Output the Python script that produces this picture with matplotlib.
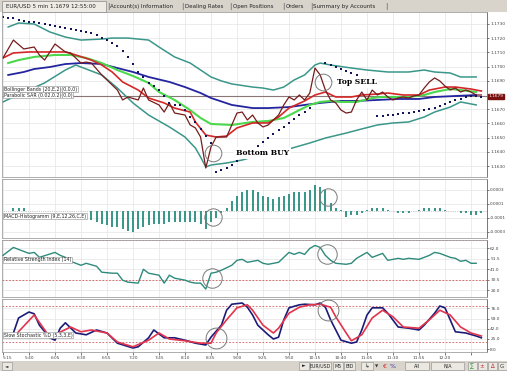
import numpy as np
import matplotlib.pyplot as plt
from matplotlib.patches import Rectangle

# ===== DATA (bar index = 5 min bars from 5:15) =====
TIME_LABELS = ["5:15", "5:40", "6:05", "6:30", "6:55", "7:20", "7:45", "8:10", "8:35",
               "9:00", "9:25", "9:50", "10:15", "10:40", "11:05", "11:30", "11:55", "12:20", ""]
TIME_TICKS = [0, 5, 10, 15, 20, 25, 30, 35, 40, 45, 50, 55, 60, 65, 70, 75, 80, 85, 90]

CURRENT = 1.1679
PRICE_TICKS = [1.1630, 1.1640, 1.1650, 1.1660, 1.1670, 1.1690, 1.1700, 1.1710, 1.1720, 1.1730]

close_pts = [(0, 1.17061), (2, 1.17187), (4, 1.17124), (6, 1.17138), (7, 1.17082), (8, 1.17046),
             (10, 1.17159), (12, 1.17103), (13, 1.17096), (15, 1.17025), (16, 1.17032), (17, 1.17025),
             (19, 1.16941), (20, 1.16906), (22, 1.16835), (23, 1.16765), (24, 1.16786), (26, 1.16765),
             (27, 1.16849), (28, 1.16765), (30, 1.16730), (31, 1.16680), (32, 1.16744), (33, 1.16673),
             (35, 1.16659), (36, 1.16589), (37, 1.16568), (38, 1.16504), (39, 1.16286), (40, 1.16434),
             (41, 1.16504), (43, 1.16504), (44, 1.16589), (45, 1.16673), (46, 1.16680), (47, 1.16624),
             (48, 1.16659), (49, 1.16603), (50, 1.16575), (51, 1.16589), (53, 1.16659), (54, 1.16730),
             (55, 1.16786), (56, 1.16765), (57, 1.16800), (58, 1.16765), (59, 1.16814), (60, 1.16990),
             (61, 1.16941), (62, 1.16835), (63, 1.16765), (64, 1.16744), (65, 1.16694), (66, 1.16673),
             (67, 1.16680), (68, 1.16765), (69, 1.16821), (70, 1.16765), (71, 1.16835), (72, 1.16800),
             (73, 1.16821), (74, 1.16786), (75, 1.16765), (76, 1.16779), (77, 1.16786), (78, 1.16779),
             (79, 1.16793), (80, 1.16800), (81, 1.16849), (82, 1.16892), (83, 1.16920), (84, 1.16899),
             (85, 1.16863), (86, 1.16835), (87, 1.16849), (88, 1.16821), (89, 1.16835), (90, 1.16821),
             (91, 1.16800), (92, 1.16800)]

red_pts = [(0, 1.17061), (2, 1.17096), (5, 1.17103), (9, 1.17103), (12, 1.17103), (14, 1.17082),
           (17, 1.17046), (19, 1.17011), (21, 1.16962), (23, 1.16892), (26, 1.16835), (28, 1.16779),
           (31, 1.16744), (33, 1.16708), (36, 1.16680), (37, 1.16610), (39, 1.16518), (41, 1.16504),
           (43, 1.16511), (45, 1.16568), (48, 1.16603), (51, 1.16603), (53, 1.16645), (55, 1.16708),
           (58, 1.16758), (60, 1.16800), (62, 1.16821), (64, 1.16786), (67, 1.16786), (69, 1.16800),
           (72, 1.16807), (74, 1.16814), (77, 1.16800), (80, 1.16800), (82, 1.16835), (85, 1.16856),
           (87, 1.16856), (90, 1.16842), (92, 1.16828)]

green_pts = [(1, 1.17025), (3, 1.17046), (6, 1.17068), (10, 1.17082), (13, 1.17082), (16, 1.17061),
             (19, 1.17025), (22, 1.16976), (25, 1.16934), (28, 1.16885), (30, 1.16821), (33, 1.16765),
             (36, 1.16694), (38, 1.16638), (40, 1.16596), (44, 1.16589), (48, 1.16610), (51, 1.16617),
             (54, 1.16638), (57, 1.16694), (59, 1.16730), (61, 1.16751), (63, 1.16758), (65, 1.16751),
             (68, 1.16751), (71, 1.16779), (73, 1.16786), (76, 1.16786), (78, 1.16786), (81, 1.16800),
             (83, 1.16821), (86, 1.16842), (88, 1.16835), (91, 1.16821)]

blue_pts = [(1, 1.16941), (4, 1.16962), (6, 1.16983), (9, 1.16997), (12, 1.17018), (15, 1.17025),
            (19, 1.17018), (22, 1.16990), (25, 1.16962), (28, 1.16927), (32, 1.16892), (35, 1.16856),
            (38, 1.16814), (40, 1.16779), (44, 1.16730), (48, 1.16708), (51, 1.16708), (55, 1.16715),
            (58, 1.16730), (61, 1.16744), (65, 1.16758), (68, 1.16758), (72, 1.16765), (76, 1.16772),
            (80, 1.16772), (83, 1.16786), (87, 1.16793), (91, 1.16800)]

bb_up_pts = [(1, 1.17279), (3, 1.17307), (6, 1.17300), (9, 1.17244), (12, 1.17208), (15, 1.17187),
             (19, 1.17194), (21, 1.17201), (24, 1.17201), (28, 1.17187), (30, 1.17138), (33, 1.17068),
             (36, 1.17025), (38, 1.16976), (40, 1.16927), (42, 1.16899), (44, 1.16878), (48, 1.16856),
             (50, 1.16849), (52, 1.16835), (54, 1.16856), (56, 1.16906), (58, 1.16941), (60, 1.17011),
             (61, 1.17025), (63, 1.17011), (67, 1.16990), (70, 1.16976), (74, 1.16962), (78, 1.16962),
             (81, 1.16976), (83, 1.16962), (86, 1.16955), (88, 1.16927), (91, 1.16927)]

bb_lo_pts = [(0, 1.16751), (2, 1.16786), (8, 1.16885), (12, 1.16976), (14, 1.17011), (15, 1.16997),
             (19, 1.16941), (22, 1.16849), (25, 1.16744), (28, 1.16659), (32, 1.16575), (35, 1.16504),
             (37, 1.16427), (38, 1.16363), (39, 1.16293), (40, 1.16307), (43, 1.16321), (46, 1.16342),
             (48, 1.16363), (51, 1.16384), (55, 1.16420), (59, 1.16462), (62, 1.16497), (66, 1.16532),
             (69, 1.16561), (72, 1.16589), (75, 1.16603), (78, 1.16610), (81, 1.16645), (83, 1.16680),
             (86, 1.16715), (88, 1.16751), (91, 1.16730)]

sar_pts = [(0, 1.17349), (1, 1.17342), (2, 1.17342), (3, 1.17328), (4, 1.17321), (5, 1.17314),
           (6, 1.17314), (7, 1.17307), (8, 1.17300), (9, 1.17293), (10, 1.17286), (11, 1.17279),
           (12, 1.17272), (13, 1.17265), (14, 1.17258), (15, 1.17251), (16, 1.17244), (17, 1.17237),
           (18, 1.17223), (19, 1.17201), (20, 1.17187), (21, 1.17166), (22, 1.17145), (23, 1.17110),
           (24, 1.17068), (25, 1.17018), (26, 1.16962), (27, 1.16927), (28, 1.16885), (29, 1.16863),
           (30, 1.16835), (31, 1.16793), (32, 1.16744), (33, 1.16730), (34, 1.16730), (35, 1.16694),
           (36, 1.16645), (37, 1.16610), (38, 1.16561), (39, 1.16511), (40, 1.16462),
           (41, 1.16258), (42, 1.16272), (43, 1.16286), (44, 1.16307), (45, 1.16335), (46, 1.16356),
           (47, 1.16377), (48, 1.16406), (49, 1.16441), (50, 1.16469), (51, 1.16497), (52, 1.16525),
           (53, 1.16554), (54, 1.16575), (55, 1.16603), (56, 1.16631), (57, 1.16659), (58, 1.16680),
           (59, 1.16708),
           (62, 1.17025), (63, 1.17011), (64, 1.16997), (65, 1.16983), (66, 1.16969), (67, 1.16955),
           (68, 1.16941),
           (72, 1.16652), (73, 1.16652), (74, 1.16659), (75, 1.16659), (76, 1.16666), (77, 1.16673),
           (78, 1.16673), (79, 1.16680), (80, 1.16687), (81, 1.16694), (82, 1.16701), (83, 1.16708),
           (84, 1.16723), (85, 1.16737), (86, 1.16751), (87, 1.16765), (88, 1.16772), (89, 1.16786),
           (90, 1.16793), (91, 1.16793), (92, 1.16786)]

# MACD histogram, units of 1e-5
macd_bars = [2, 3, 4] + list(range(17, 93))
macd_vals = [4, 4, 4,
             -14, -17, -19, -20, -23, -24, -27, -29, -30, -26,
             -23, -20, -19, -19, -19, -17, -17, -17, -17, -17,
             -17, -19, -26, -17, -10, -3,
             4, 13, 21, 26, 29, 29, 26, 21, 19, 17,
             19, 21, 24, 26, 26, 27, 30, 36, 34, 29,
             11, 4, 1,
             -9, -7, -7, -3, 1, 3, 4, 4, 1, -1,
             -3, -4, -3, -1, 1, 3, 4, 4, 4, 1,
             -1, -1, -3, -4, -6, -6, -4]
MACD_TICKS = [-3e-4, -1e-4, 1e-4, 3e-4]
MACD_LABELS = ["-0.0003", "-0.0001", "0.0001", "0.0003"]

rsi_pts = [(0, 55), (2, 63), (4, 59), (5, 57), (6, 58), (7, 53), (10, 58), (11, 55), (12, 53), (13, 49),
           (15, 45), (16, 47), (18, 44), (19, 38), (21, 37), (22, 37), (23, 30), (24, 28), (26, 27),
           (27, 41), (28, 37), (30, 35), (31, 27), (32, 35), (33, 32), (35, 30), (36, 28), (37, 27),
           (38, 27), (39, 21), (40, 37), (41, 38), (42, 40), (44, 45), (45, 50), (46, 51), (47, 48),
           (49, 50), (50, 47), (51, 46), (53, 48), (54, 53), (55, 58), (56, 56), (57, 58), (58, 56),
           (59, 62), (60, 65), (61, 63), (62, 55), (63, 50), (64, 47), (66, 46), (67, 47), (68, 52),
           (70, 58), (71, 53), (72, 55), (73, 57), (74, 50), (76, 52), (77, 51), (78, 52), (80, 51),
           (82, 55), (83, 58), (84, 57), (86, 53), (87, 52), (88, 49), (89, 50), (90, 47), (91, 47)]
RSI_TICKS = [20.0, 30.5, 41.0, 51.5, 62.0]

stoch_k_pts = [(2, 35), (3, 60), (5, 70), (6, 67), (7, 48), (9, 27), (10, 23), (11, 43), (12, 52),
               (14, 35), (16, 32), (18, 40), (20, 35), (22, 18), (25, 10), (26, 12), (28, 27), (29, 40),
               (31, 27), (33, 27), (35, 23), (37, 18), (39, 15), (40, 28), (42, 48), (43, 73), (44, 83),
               (46, 85), (47, 78), (48, 65), (49, 48), (51, 32), (52, 25), (53, 28), (54, 57), (55, 77),
               (57, 82), (58, 83), (60, 82), (61, 85), (62, 78), (63, 57), (64, 40), (65, 23), (67, 18),
               (68, 20), (69, 40), (70, 65), (71, 77), (73, 77), (74, 68), (76, 45), (78, 43), (80, 40),
               (81, 48), (83, 68), (84, 80), (85, 77), (86, 57), (87, 37), (89, 35), (91, 30), (92, 27)]
stoch_d_pts = [(2, 28), (6, 65), (9, 28), (13, 45), (15, 37), (17, 40), (20, 35), (22, 20), (25, 12),
               (28, 23), (30, 35), (32, 25), (35, 22), (38, 18), (40, 18), (41, 35), (43, 57), (45, 77),
               (47, 82), (48, 73), (50, 48), (52, 35), (53, 43), (55, 68), (57, 78), (59, 82), (61, 83),
               (63, 78), (64, 62), (66, 35), (67, 22), (69, 32), (71, 60), (73, 73), (75, 62), (77, 45),
               (80, 43), (82, 57), (84, 73), (86, 65), (88, 45), (90, 35), (92, 30)]
STOCH_TICKS = [8.0, 25.0, 42.0, 59.0, 76.0]

# hand drawn circles (bar, value) on each panel
circles_main = [(40.4, 1.16392), (61.5, 1.16892)]
circles_macd = [(40.4, -9.3e-5), (62.5, 19.3e-5)]
circles_rsi = [(40.2, 32), (62.3, 56)]
circles_stoch = [(41.0, 27), (62.5, 73)]
# ==========================================================================

W, H = 507, 371
X_LIM = (-0.19, 93.08)
TICK_FS = 3.1


def pts(p):
    x, y = zip(*p)
    return np.array(x), np.array(y)


def box(x0, y0, x1, y1):
    # pixel box (top-left origin) -> figure fraction
    return [x0 / W, 1 - y1 / H, (x1 - x0) / W, (y1 - y0) / H]


def frect(fig, x0, y0, x1, y1, **kw):
    fig.add_artist(Rectangle((x0 / W, 1 - y1 / H), (x1 - x0) / W, (y1 - y0) / H,
                             transform=fig.transFigure, **kw))


def ftext(fig, x, y, s, **kw):
    kw.setdefault("va", "center")
    kw.setdefault("fontsize", 4)
    fig.text(x / W, 1 - y / H, s, **kw)


def style(ax, ticks, labels, ylim):
    ax.set_xlim(*X_LIM)
    ax.set_ylim(*ylim)
    ax.yaxis.tick_right()
    ax.set_yticks(ticks)
    ax.set_yticklabels(labels)
    ax.set_xticks(TIME_TICKS)
    ax.tick_params(axis="y", labelsize=TICK_FS, length=1.5, width=0.5, pad=0.8, colors="#444444")
    ax.tick_params(axis="x", length=0, labelbottom=False)
    ax.grid(True, color="#e4e4e4", lw=0.5)
    ax.set_axisbelow(True)
    for s in ax.spines.values():
        s.set_color("#a0a0a0")
        s.set_linewidth(0.6)
    ax.spines["right"].set_color("#606060")


def circles(ax, c, ms):
    x, y = zip(*c)
    ax.plot(x, y, "o", ms=ms, mfc="none", mec="#7a7a7a", mew=0.7, zorder=9)


fig = plt.figure(figsize=(W / 100, H / 100), dpi=100)
fig.patch.set_facecolor("white")

# ---- price panel ----
ax = fig.add_axes(box(2, 12, 487, 177))
style(ax, PRICE_TICKS, [f"{v:.4f}" for v in PRICE_TICKS],
      (1.1730 - 153 / 14200, 1.1730 + 12 / 14200))
teal = "#3a978a"
for p in (bb_up_pts, bb_lo_pts):
    ax.plot(*pts(p), color=teal, lw=1.1)
ax.plot(*pts(blue_pts), color="#2424a0", lw=1.3)
ax.plot(*pts(green_pts), color="#4cd84c", lw=1.5)
ax.plot(*pts(red_pts), color="#d42828", lw=1.2)
ax.plot(*pts(close_pts), color="#761c1c", lw=0.9)
ax.axhline(CURRENT, color="#8a7676", lw=0.8, zorder=1.5)
ax.plot(*pts(sar_pts), ls="none", marker="s", ms=2.0, color="#141458", mew=0)
circles(ax, circles_main, 12)
ax.text(44.8, circles_main[0][1], "Bottom BUY", fontsize=5.5, fontweight="bold", family="DejaVu Serif",
        va="center", bbox=dict(fc="white", ec="none", pad=1.2), zorder=8)
ax.text(64.2, circles_main[1][1], "Top SELL", fontsize=5.5, fontweight="bold", family="DejaVu Serif",
        va="center", bbox=dict(fc="white", ec="none", pad=1.2), zorder=8)
ax.text(1.003, CURRENT, f"{CURRENT:.4f}", transform=ax.get_yaxis_transform(), ha="left", va="center",
        fontsize=TICK_FS, color="white", clip_on=False, zorder=10,
        bbox=dict(fc="#7a0f0f", ec="#7a0f0f", pad=0.6))

# ---- MACD histogram ----
ax = fig.add_axes(box(2, 179, 487, 238))
style(ax, MACD_TICKS, MACD_LABELS, (-27.5 * 0.0002 / 14, 31.5 * 0.0002 / 14))
ax.bar(macd_bars, np.array(macd_vals) * 1e-5, width=0.38, color=teal, zorder=3)
ax.axhline(0, color="#999999", lw=0.5, ls=":", zorder=2)
circles(ax, circles_macd, 12.5)

# ---- RSI ----
ax = fig.add_axes(box(2, 240, 487, 297))
style(ax, RSI_TICKS, [f"{v:.1f}" for v in RSI_TICKS], (13, 70.5))
for lvl in (70, 30):
    ax.axhline(lvl, color="#d45a5a", lw=0.6, ls=(0, (2, 2)), zorder=2)
ax.plot(*pts(rsi_pts), color="#2e8a7c", lw=1.0, zorder=3)
circles(ax, circles_rsi, 14)

# ---- Slow stochastic ----
ax = fig.add_axes(box(2, 299, 487, 352))
style(ax, STOCH_TICKS, [f"{v:.1f}" for v in STOCH_TICKS], (3.3, 91.7))
for lvl in (80, 20):
    ax.axhline(lvl, color="#d45a5a", lw=0.6, ls=(0, (2, 2)), zorder=2)
ax.plot(*pts(stoch_k_pts), color="#1c1c78", lw=1.2, zorder=3)
ax.plot(*pts(stoch_d_pts), color="#e2344c", lw=1.2, zorder=4)
circles(ax, circles_stoch, 15)
ax.set_xticklabels(TIME_LABELS)
ax.tick_params(axis="x", labelbottom=True, labelsize=TICK_FS, length=2, width=0.5, pad=1,
               colors="#444444")
ax.get_xticklabels()[0].set_horizontalalignment("left")

# ---- indicator name boxes ----
lbl = dict(fontsize=3.4, color="#222222", zorder=20,
           bbox=dict(fc="white", ec="#8c8c8c", lw=0.4, pad=0.4))
ftext(fig, 4, 89, "Bollinger Bands (20,E,2)(0,0,0)", **lbl)
ftext(fig, 4, 95, "Parabolic SAR (0.02,0.2)(0,0)", **lbl)
ftext(fig, 4, 216, "MACD-Histogramm (9,E,12,26,C,E)", **lbl)
ftext(fig, 4, 260, "Relative Strength Index (14)", **lbl)
ftext(fig, 4, 335, "Slow Stochastic %D (5,3,3,E)", **lbl)

# ---- tab strip on top ----
frect(fig, 0, 0, W, 12, fc="#d8d4cc", ec="none")
frect(fig, 2, 1, 106, 12, fc="#eeebe4", ec="#8a8a8a", lw=0.5)
tabs = [(6, "EUR/USD 5 min 1.1679 12:55:00"), (110, "Account(s) Information"), (185, "Dealing Rates"),
        (233, "Open Positions"), (286, "Orders"), (313, "Summary by Accounts")]
for x, s in tabs:
    ftext(fig, x, 6.5, s, fontsize=4, color="#222222")
for x in (107, 181, 229, 282, 310, 385):
    ftext(fig, x, 6.5, "|", fontsize=5, color="#555555")

# ---- button strip at the bottom ----
frect(fig, 0, 361, W, H, fc="#d8d4cc", ec="none")
btn = dict(fc="#ebe8e2", ec="#8a8a8a", lw=0.4)
frect(fig, 2, 362, 12, 370, **btn)
ftext(fig, 4.5, 366, "\u25c4", fontsize=3.2, color="#222222")
for x0, x1, s in [(299, 309, "\u25ba"), (310, 331, "EUR/USD"), (333, 343, "M5"), (344, 355, "BID"),
                  (405, 429, "All"), (431, 464, "N/A")]:
    frect(fig, x0, 362, x1, 370, **btn)
    ftext(fig, (x0 + x1) / 2, 366, s, fontsize=3.4, ha="center", color="#222222")
frect(fig, 361, 362, 373, 370, **btn)
ftext(fig, 367, 366, "\u21b3", fontsize=4, ha="center", color="#333333")
ftext(fig, 377, 366, "\u25bc", fontsize=3, ha="center", color="#333333")
ftext(fig, 385, 366, "\u20ac", fontsize=4.5, ha="center", color="#cc2222")
ftext(fig, 393, 366, "%", fontsize=4.5, ha="center", color="#3333aa")
for x, c, s in [(472, "#2d9a3a", "\u2211"), (482, "#c03030", "\u00b1"), (492, "#b03030", "\u2206"),
                (502, "#333333", "G")]:
    frect(fig, x - 4.5, 362, x + 4.5, 370, **btn)
    ftext(fig, x, 366, s, fontsize=4, ha="center", color=c)

fig.savefig("out.png", dpi=100)
